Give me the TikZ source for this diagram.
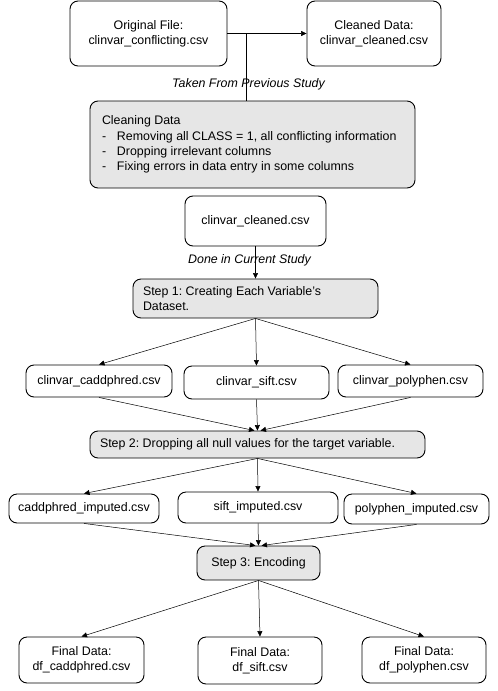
\documentclass[tikz,border=0pt]{standalone}
\usepackage{fontspec}
\setmainfont{Liberation Sans}
\usetikzlibrary{arrows.meta,calc}
\definecolor{boxgray}{HTML}{E6E6E6}
\frenchspacing
\begin{document}
\begin{tikzpicture}[x=1pt,y=-1pt,
  font=\fontsize{12.4}{15.2}\selectfont,
  box/.style={draw,line width=0.9pt,rounded corners=8pt,align=center,inner sep=0pt},
  gbox/.style={box,fill=boxgray},
  arr/.style={line width=0.5pt,-{Triangle[length=5.5pt,width=5pt]}},
  ln/.style={line width=0.5pt},
  lab/.style={font=\fontsize{12.4}{14}\selectfont\itshape}]
\useasboundingbox (0,0) rectangle (498,691);
\node[box,minimum width=157,minimum height=65] (orig) at (148.5,33.5) {Original File:\\clinvar\_conflicting.csv};
\node[box,minimum width=134,minimum height=65] (clean) at (374,33.5) {Cleaned Data:\\clinvar\_cleaned.csv};
\node[gbox,minimum width=325,minimum height=87,align=left] (cdata) at (252.5,144.5) {\parbox{325pt}{\leftskip=12pt Cleaning Data\\
\makebox[15pt][l]{-}Removing all CLASS = 1, all conflicting information\\
\makebox[15pt][l]{-}Dropping irrelevant columns\\
\makebox[15pt][l]{-}Fixing errors in data entry in some columns}};
\coordinate (split) at (246,33.5);
\coordinate (ctop) at (246,101);
\draw[arr] (orig.east) -- (clean.west);
\draw[ln] (split) -- (ctop);
\node[lab] (l1) at (248.5,84) {Taken From Previous Study};
\node[box,minimum width=141,minimum height=50] (cc) at (255.5,221) {clinvar\_cleaned.csv};
\node[gbox,minimum width=245,minimum height=39] (s1) at (255.5,298.5) {\parbox{245pt}{\leftskip=10pt Step 1: Creating Each Variable's\\Dataset.}};
\draw[arr] (cc.south) -- (s1.north);
\node[lab] (l2) at (249.5,260) {Done in Current Study};
\node[box,minimum width=146,minimum height=32] (c1) at (99,381) {clinvar\_caddphred.csv};
\node[box,minimum width=145,minimum height=33] (c2) at (256.5,382.5) {clinvar\_sift.csv};
\node[box,minimum width=145,minimum height=32] (c3) at (410.5,381) {clinvar\_polyphen.csv};
\draw[arr] (s1.south) -- (c1.north);
\draw[arr] (s1.south) -- (c2.north);
\draw[arr] (s1.south) -- (c3.north);
\node[gbox,minimum width=335,minimum height=27] (s2) at (257.5,444.5) {\makebox[335pt][l]{\hspace{10pt}Step 2: Dropping all null values for the target variable.}};
\draw[arr] (c1.south) -- ($(s2.north)+(-3,0)$);
\draw[arr] (c2.south) -- (s2.north);
\draw[arr] (c3.south) -- ($(s2.north)+(3,0)$);
\node[box,minimum width=150,minimum height=29] (i1) at (84,508.5) {caddphred\_imputed.csv};
\node[box,minimum width=160,minimum height=31] (i2) at (258,507.5) {sift\_imputed.csv};
\node[box,minimum width=145,minimum height=30] (i3) at (416.5,509) {polyphen\_imputed.csv};
\draw[arr] (s2.south) -- (i1.north);
\draw[arr] (s2.south) -- (i2.north);
\draw[arr] (s2.south) -- (i3.north);
\node[gbox,minimum width=123,minimum height=34] (s3) at (258.5,563) {Step 3: Encoding};
\draw[arr] (i1.south) -- ($(s3.north)+(-3,0)$);
\draw[arr] (i2.south) -- (s3.north);
\draw[arr] (i3.south) -- ($(s3.north)+(3,0)$);
\node[box,minimum width=125,minimum height=46] (f1) at (81.5,660) {Final Data:\\df\_caddphred.csv};
\node[box,minimum width=124,minimum height=47] (f2) at (260,660.5) {Final Data:\\df\_sift.csv};
\node[box,minimum width=124,minimum height=46] (f3) at (424,660) {Final Data:\\df\_polyphen.csv};
\draw[arr] (s3.south) -- (f1.north);
\draw[arr] (s3.south) -- (f2.north);
\draw[arr] (s3.south) -- (f3.north);
\end{tikzpicture}
\end{document}
